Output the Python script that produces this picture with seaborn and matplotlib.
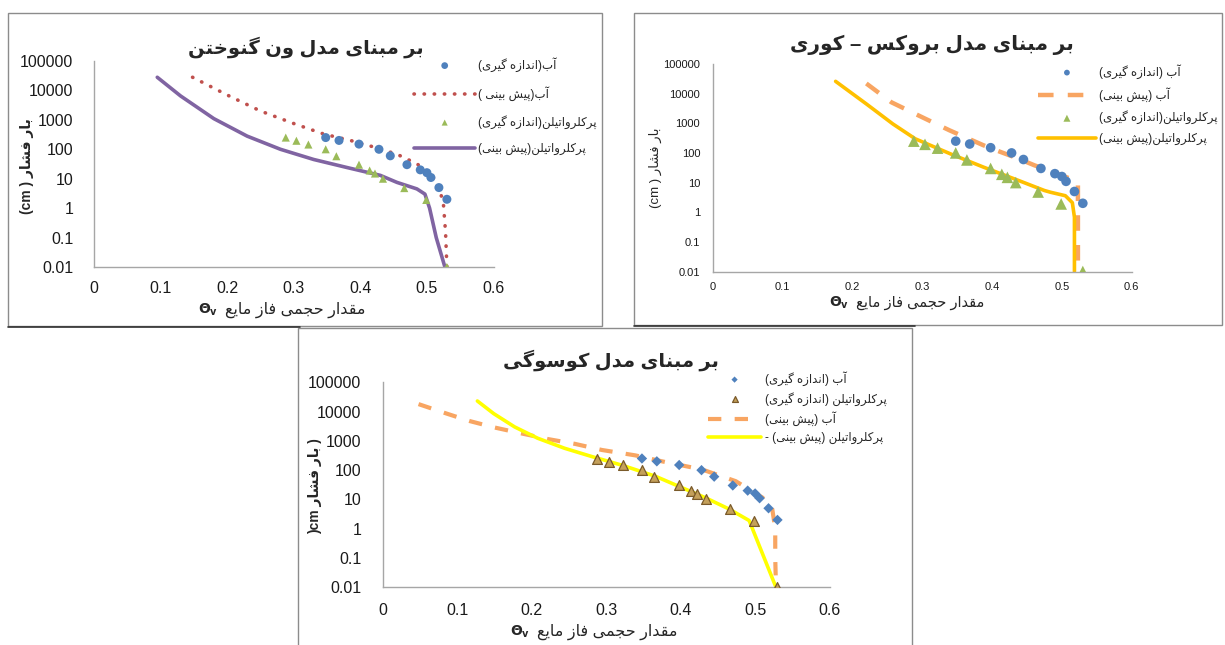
import matplotlib
matplotlib.use("Agg")
import matplotlib.pyplot as plt
import seaborn as sns
from matplotlib.patches import Rectangle
from matplotlib.lines import Line2D
from matplotlib.ticker import NullLocator

# ---- data ----
x_ticks = [0, 0.1, 0.2, 0.3, 0.4, 0.5, 0.6]
x_tick_labels = ["0", "0.1", "0.2", "0.3", "0.4", "0.5", "0.6"]
y_ticks = [0.01, 0.1, 1, 10, 100, 1000, 10000, 100000]
y_tick_labels = ["0.01", "0.1", "1", "10", "100", "1000", "10000", "100000"]

# measured (same in all three panels)
water_theta = [0.348, 0.368, 0.398, 0.428, 0.445, 0.47, 0.49, 0.50, 0.506, 0.518, 0.53]
water_h = [250, 200, 150, 100, 60, 30, 20, 16, 11, 5, 2]
pce_theta = [0.288, 0.304, 0.322, 0.348, 0.364, 0.398, 0.414, 0.422, 0.434, 0.466, 0.499, 0.53]
pce_h = [250, 195, 145, 100, 58, 30, 19, 15, 10, 4.8, 1.9, 0.01]

# van Genuchten predictions
vg_water_theta = [0.148, 0.20, 0.25, 0.30, 0.345, 0.385, 0.42, 0.455, 0.485, 0.505, 0.518, 0.525, 0.528, 0.53]
vg_water_h = [28000, 7000, 2000, 750, 330, 200, 120, 68, 32, 15, 6, 1.2, 0.15, 0.01]
vg_pce_theta = [0.095, 0.13, 0.18, 0.23, 0.28, 0.33, 0.38, 0.43, 0.455, 0.485, 0.497, 0.504, 0.514, 0.527]
vg_pce_h = [28000, 6500, 1100, 280, 100, 45, 24, 13, 7.5, 4.5, 3, 1, 0.1, 0.01]

# Brooks-Corey predictions
bc_water_theta = [0.220, 0.256, 0.300, 0.339, 0.388, 0.407, 0.437, 0.461, 0.475, 0.514, 0.519, 0.523, 0.523]
bc_water_h = [22000, 5100, 1600, 580, 180, 120, 65, 38, 29, 13, 11.5, 11, 0.01]
bc_pce_theta = [0.176, 0.22, 0.258, 0.29, 0.34, 0.388, 0.437, 0.475, 0.484, 0.505, 0.515, 0.518, 0.518]
bc_pce_h = [26000, 4500, 950, 300, 94, 33, 12, 5.4, 4.7, 3.6, 2.1, 0.68, 0.01]

# Kosugi predictions
ks_water_theta = [0.048, 0.086, 0.116, 0.149, 0.186, 0.222, 0.258, 0.294, 0.339, 0.375, 0.429, 0.474, 0.51, 0.523, 0.527, 0.527, 0.528]
ks_water_h = [18000, 8500, 4800, 2900, 1800, 1150, 790, 490, 320, 200, 105, 42, 11.5, 4.7, 1, 0.1, 0.01]
ks_pce_theta = [0.127, 0.149, 0.177, 0.208, 0.244, 0.28, 0.323, 0.366, 0.433, 0.465, 0.492, 0.528]
ks_pce_h = [23000, 8500, 3000, 1230, 560, 295, 143, 62, 11.5, 4.7, 1.9, 0.01]

# ---- minimal Persian shaping (matplotlib has no complex text layout) ----
FORMS = {
    'ا': ('\uFE8D', '\uFE8E'), 'آ': ('\uFE81', '\uFE82'),
    'د': ('\uFEA9', '\uFEAA'), 'ر': ('\uFEAD', '\uFEAE'),
    'ز': ('\uFEAF', '\uFEB0'), 'و': ('\uFEED', '\uFEEE'),
    'ب': ('\uFE8F', '\uFE90', '\uFE91', '\uFE92'),
    'پ': ('\uFB56', '\uFB57', '\uFB58', '\uFB59'),
    'ت': ('\uFE95', '\uFE96', '\uFE97', '\uFE98'),
    'ج': ('\uFE9D', '\uFE9E', '\uFE9F', '\uFEA0'),
    'ح': ('\uFEA1', '\uFEA2', '\uFEA3', '\uFEA4'),
    'خ': ('\uFEA5', '\uFEA6', '\uFEA7', '\uFEA8'),
    'س': ('\uFEB1', '\uFEB2', '\uFEB3', '\uFEB4'),
    'ش': ('\uFEB5', '\uFEB6', '\uFEB7', '\uFEB8'),
    'ع': ('\uFEC9', '\uFECA', '\uFECB', '\uFECC'),
    'ف': ('\uFED1', '\uFED2', '\uFED3', '\uFED4'),
    'ق': ('\uFED5', '\uFED6', '\uFED7', '\uFED8'),
    'ک': ('\uFB8E', '\uFB8F', '\uFB90', '\uFB91'),
    'گ': ('\uFB92', '\uFB93', '\uFB94', '\uFB95'),
    'ل': ('\uFEDD', '\uFEDE', '\uFEDF', '\uFEE0'),
    'م': ('\uFEE1', '\uFEE2', '\uFEE3', '\uFEE4'),
    'ن': ('\uFEE5', '\uFEE6', '\uFEE7', '\uFEE8'),
    'ه': ('\uFEE9', '\uFEEA', '\uFEEB', '\uFEEC'),
    'ی': ('\uFBFC', '\uFBFD', '\uFBFE', '\uFBFF'),
}


def fa(text):
    out = []
    for i, ch in enumerate(text):
        f = FORMS.get(ch)
        if f is None:
            out.append(ch)
            continue
        prev = FORMS.get(text[i - 1]) if i > 0 else None
        nxt = FORMS.get(text[i + 1]) if i < len(text) - 1 else None
        jp = prev is not None and len(prev) == 4
        jn = nxt is not None and len(f) == 4
        if jp and jn:
            out.append(f[3])
        elif jp:
            out.append(f[1])
        elif jn:
            out.append(f[2])
        else:
            out.append(f[0])
    mirror = {'(': ')', ')': '('}
    return ''.join(mirror.get(c, c) for c in reversed(out))


sns.set_style("white")
plt.rcParams['font.family'] = ['Liberation Sans', 'DejaVu Sans']

W, H = 1225, 645
fig = plt.figure(figsize=(W / 100, H / 100), dpi=100)


def fx(x):
    return x / W


def fy(y):
    return 1 - y / H


def add_panel_axes(x0, x1, y_top, y_bot):
    return fig.add_axes([fx(x0), fy(y_bot), fx(x1 - x0), (y_bot - y_top) / H])


def style_axes(ax, tick_fs, ypad, xpad):
    ax.set_yscale('log')
    ax.set_xlim(0, 0.6)
    ax.set_ylim(0.01, 100000)
    ax.set_xticks(x_ticks)
    ax.set_xticklabels(x_tick_labels)
    ax.set_yticks(y_ticks)
    ax.set_yticklabels(y_tick_labels)
    ax.yaxis.set_minor_locator(NullLocator())
    for s in ['top', 'right']:
        ax.spines[s].set_visible(False)
    for s in ['left', 'bottom']:
        ax.spines[s].set_color('#a6a6a6')
        ax.spines[s].set_linewidth(1.0)
    ax.tick_params(axis='both', length=0, labelsize=tick_fs, colors='#1a1a1a')
    ax.tick_params(axis='y', pad=ypad)
    ax.tick_params(axis='x', pad=xpad)
    ax.set_xlabel('')
    ax.set_ylabel('')
    ax.set_facecolor('white')


def theta_label(x_split, y, fs, theta_fs):
    # Θv (bold, subscript v) on the left, Persian text on its right
    fig.text(fx(x_split - 4), fy(y), r"$\mathbf{\Theta_v}$", ha='right', va='center',
             fontsize=theta_fs)
    fig.text(fx(x_split + 3), fy(y), fa("مقدار حجمی فاز مایع"), ha='left', va='center',
             fontsize=fs)


# panel frames
for (x0, y0, x1, y1) in [(8, 13, 602, 326), (634, 13, 1222, 325), (298, 328, 912, 650)]:
    fig.patches.append(Rectangle((fx(x0), fy(y1)), fx(x1 - x0), (y1 - y0) / H,
                                 transform=fig.transFigure, fill=False,
                                 edgecolor='#8c8c8c', linewidth=1.0))
# darker bottom edges of the two upper frames
for (x0, x1, y) in [(8, 300, 326.5), (634, 915, 325.5)]:
    fig.lines.append(Line2D([fx(x0), fx(x1)], [fy(y), fy(y)], transform=fig.transFigure,
                            color='#333333', linewidth=1.2))

BLUE = '#4F81BD'
lbl_w_meas = fa("آب(اندازه گیری)")
lbl_w_pred = fa("آب(پیش بینی )")
lbl_p_meas = fa("پرکلرواتیلن(اندازه گیری)")
lbl_p_pred = fa("پرکلرواتیلن(پیش بینی)")
ylab = fa("بار فشار")

# ---------- panel 1: van Genuchten ----------
ax1 = add_panel_axes(94, 493.5, 61, 267)
sns.lineplot(x=vg_water_theta, y=vg_water_h, ax=ax1, estimator=None, sort=False,
             color='#C0504D', linewidth=2.6, label=lbl_w_pred, zorder=2)
ax1.lines[-1].set_dashes((0.1, 2.7))
ax1.lines[-1].set_dash_capstyle('round')
sns.lineplot(x=vg_pce_theta, y=vg_pce_h, ax=ax1, estimator=None, sort=False,
             color='#8064A2', linewidth=2.6, label=lbl_p_pred, zorder=2)
sns.scatterplot(x=water_theta, y=water_h, ax=ax1, color=BLUE, marker='o', s=42,
                edgecolor='none', label=lbl_w_meas, zorder=3)
sns.scatterplot(x=pce_theta, y=pce_h, ax=ax1, color='#9BBB59', marker='^', s=34,
                edgecolor='none', label=lbl_p_meas, zorder=3)
style_axes(ax1, 11.5, 15, 10)
h, l = ax1.get_legend_handles_labels()
order = [lbl_w_meas, lbl_w_pred, lbl_p_meas, lbl_p_pred]
ax1.legend([h[l.index(o)] for o in order], order, loc='upper left',
           bbox_to_anchor=(fx(414), fy(57)), bbox_transform=fig.transFigure,
           frameon=False, fontsize=8.5, handlelength=5.2, handletextpad=0.25,
           labelspacing=1.2, borderpad=0, borderaxespad=0, markerscale=0.75)
fig.text(fx(306), fy(47), fa("بر مبنای مدل ون گنوختن"), ha='center', va='center',
         fontsize=14, fontweight='bold')
theta_label(222, 310, 11.5, 10)
fig.text(fx(27), fy(166), "(cm ) " + ylab, rotation=90, ha='center', va='center',
         fontsize=10, fontweight='bold')

# ---------- panel 2: Brooks-Corey ----------
lbl2_w_meas = fa("آب (اندازه گیری)")
lbl2_w_pred = fa("آب (پیش بینی)")
ax2 = add_panel_axes(712.7, 1131.7, 64, 271.5)
sns.lineplot(x=bc_water_theta, y=bc_water_h, ax=ax2, estimator=None, sort=False,
             color='#F79646', linewidth=3.2, alpha=0.85, label=lbl2_w_pred, zorder=2)
ax2.lines[-1].set_dashes((3.5, 3.2))
sns.lineplot(x=bc_pce_theta, y=bc_pce_h, ax=ax2, estimator=None, sort=False,
             color='#FFC000', linewidth=2.6, label=lbl_p_pred, zorder=2)
sns.scatterplot(x=water_theta, y=water_h, ax=ax2, color=BLUE, marker='o', s=48,
                edgecolor='none', label=lbl2_w_meas, zorder=3)
sns.scatterplot(x=pce_theta, y=pce_h, ax=ax2, color='#9BBB59', marker='^', s=70,
                edgecolor='none', label=lbl_p_meas, zorder=3)
style_axes(ax2, 8, 9, 7.5)
h, l = ax2.get_legend_handles_labels()
order = [lbl2_w_meas, lbl2_w_pred, lbl_p_meas, lbl_p_pred]
ax2.legend([h[l.index(o)] for o in order], order, loc='upper left',
           bbox_to_anchor=(fx(1038), fy(64)), bbox_transform=fig.transFigure,
           frameon=False, fontsize=8.5, handlelength=4.9, handletextpad=0.25,
           labelspacing=0.72, borderpad=0, borderaxespad=0, markerscale=0.6)
fig.text(fx(932), fy(45), fa("بر مبنای مدل بروکس – کوری"), ha='center', va='center',
         fontsize=14.5, fontweight='bold')
theta_label(853, 303, 10.5, 10)
fig.text(fx(655), fy(168), "(cm ) " + ylab, rotation=90, ha='center', va='center',
         fontsize=9.5)

# ---------- panel 3: Kosugi ----------
lbl3_p_meas = fa("پرکلرواتیلن (اندازه گیری)")
lbl3_p_pred = fa("پرکلرواتیلن (پیش بینی) -")
ax3 = add_panel_axes(382.8, 829.6, 382.3, 587.3)
sns.lineplot(x=ks_water_theta, y=ks_water_h, ax=ax3, estimator=None, sort=False,
             color='#F79646', linewidth=3.0, alpha=0.85, label=lbl2_w_pred, zorder=2)
ax3.lines[-1].set_dashes((3.2, 3.2))
sns.lineplot(x=ks_pce_theta, y=ks_pce_h, ax=ax3, estimator=None, sort=False,
             color='#FFFF00', linewidth=2.6, label=lbl3_p_pred, zorder=2)
sns.scatterplot(x=water_theta, y=water_h, ax=ax3, color=BLUE, marker='D', s=28,
                edgecolor='none', label=lbl2_w_meas, zorder=3)
sns.scatterplot(x=pce_theta, y=pce_h, ax=ax3, color='#C4A05A', marker='^', s=50,
                edgecolor='#7A5A2A', linewidth=0.9, label=lbl3_p_meas, zorder=3)
style_axes(ax3, 11.5, 15.5, 11)
h, l = ax3.get_legend_handles_labels()
order = [lbl2_w_meas, lbl3_p_meas, lbl2_w_pred, lbl3_p_pred]
ax3.legend([h[l.index(o)] for o in order], order, loc='upper left',
           bbox_to_anchor=(fx(708), fy(371)), bbox_transform=fig.transFigure,
           frameon=False, fontsize=8.5, handlelength=4.5, handletextpad=0.3,
           labelspacing=0.5, borderpad=0, borderaxespad=0, markerscale=0.6)
fig.text(fx(611), fy(360), fa("بر مبنای مدل کوسوگی"), ha='center', va='center',
         fontsize=14, fontweight='bold')
theta_label(534, 632, 11.5, 10)
fig.text(fx(315), fy(486), ")cm " + ylab + " )", rotation=90, ha='center', va='center',
         fontsize=10, fontweight='bold')

fig.savefig("out.png", dpi=100)
